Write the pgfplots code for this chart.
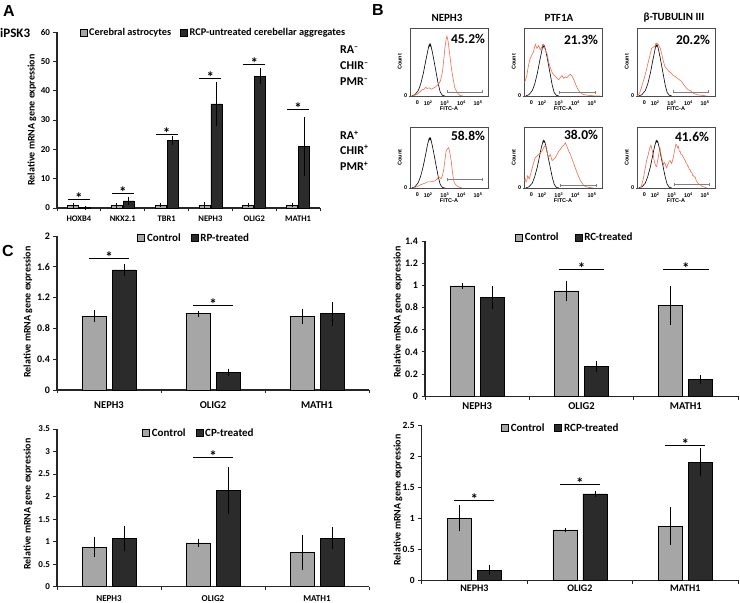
\documentclass[border=0pt]{standalone}
\usepackage{fontspec}
\setmainfont{Carlito}
\newfontfamily\arial{Liberation Sans}
\usepackage{pgfplots}
\pgfplotsset{compat=1.18}
\usetikzlibrary{arrows.meta}
\newcommand{\fs}[1]{\fontsize{#1}{#1}\selectfont}
\definecolor{lbar}{HTML}{A6A6A6}
\definecolor{dbar}{HTML}{2B2B2B}
\definecolor{hred}{HTML}{F26B4A}

\tikzset{sigstar/.style={pos=0.5, anchor=base, yshift=-4pt, font=\bfseries\fs{15}}}

\pgfplotsset{
  ybar legend/.style={legend image code/.code={\draw[##1,draw=black,line width=0.6pt] (0pt,-3.5pt) rectangle (7pt,3.5pt);}},
  barax/.style={
    scale only axis, ybar, ymin=0, clip=false,
    axis lines=left, axis line style={-, line width=1.1pt, black!85},
    tick align=outside, ytick pos=left, major tick length=3.5pt,
    tick style={black!85, line width=0.9pt},
    xticklabels={,,,,,,,,},
    extra x tick style={major tick length=0pt},
    /pgf/number format/assume math mode=true,
    legend style={draw=none, fill=none, legend columns=2, inner sep=0pt,
      /tikz/every even column/.append style={column sep=8pt}},
    legend cell align=left,
    error bars/y dir=both, error bars/y explicit,
    error bars/error mark options={black, mark size=2pt, line width=0.7pt},
    error bars/error bar style={black, line width=0.7pt},
    every axis plot/.append style={draw=black, line width=0.7pt},
  },
  hist/.style={
    scale only axis, width=78pt, xmin=0.9, xmax=5.6, ymin=0, ymax=1,
    axis line style={black!70, line width=0.5pt},
    xtick={1.35,2,3,4,5},
    xticklabels={0,10\textsuperscript{2},10\textsuperscript{3},10\textsuperscript{4},10\textsuperscript{5}},
    minor xtick={2.3,2.48,2.6,2.7,2.78,2.85,2.9,2.95,3.3,3.48,3.6,3.7,3.78,3.85,3.9,3.95,4.3,4.48,4.6,4.7,4.78,4.85,4.9,4.95},
    ytick={0}, yticklabels={0},
    xtick pos=bottom, ytick pos=left, tick align=outside,
    major tick length=1.5pt, minor tick length=1pt,
    tick style={black!70, line width=0.4pt},
    tick label style={font=\arial\bfseries\fs{5.5}, inner sep=1pt},
    xticklabel style={yshift=-2pt},
    xlabel={FITC-A}, ylabel={Count},
    label style={font=\arial\bfseries\fs{5.5}},
    xlabel style={yshift=3pt}, ylabel style={yshift=-2pt},
    every axis plot/.append style={line width=0.6pt, no marks},
  },
}

\begin{document}
\begin{tikzpicture}

% ---------- panel letters and side text
\node[font=\arial\bfseries\fs{16}] at (9pt,592pt) {A};
\node[font=\arial\bfseries\fs{16}] at (378pt,593pt) {B};
\node[font=\arial\bfseries\fs{16}] at (8pt,352pt) {C};
\node[font=\bfseries\fs{13}, anchor=west, inner sep=0pt] at (0pt,570pt) {iPSK3};

% ---------- A
\begin{axis}[barax, at={(57pt,395pt)}, anchor=south west, width=263pt, height=176pt,
  xmin=-0.5, xmax=5.5, ymax=60, ytick={0,10,20,30,40,50,60}, bar width=11pt,
  xtick={-0.5,0.5,1.5,2.5,3.5,4.5,5.5},
  extra x ticks={0,1,2,3,4,5}, extra x tick labels={HOXB4,NKX2.1,TBR1,NEPH3,OLIG2,MATH1},
  yticklabel style={font=\bfseries\fs{9}},
  xticklabel style={font=\bfseries\fs{8.5}, yshift=-4pt},
  legend style={at={(0.085,0.994)}, anchor=west, font=\bfseries\fs{10.3},
    /tikz/every even column/.append style={column sep=7pt}}]
\addplot[fill=lbar, bar shift=-6pt] coordinates {(0,0.8)+-(0,0.3) (1,0.9)+-(0,0.2) (2,1)+-(0,0.1) (3,1)+-(0,0.3) (4,1)+-(0,0.1) (5,1)+-(0,0.1)};
\addplot[fill=dbar, bar shift=6pt] coordinates {(0,0.1)+-(0,0.05) (1,2.4)+-(0,0.7) (2,23)+-(0,0.8) (3,35.5)+-(0,6.7) (4,45)+-(0,2) (5,21)+-(0,9.3)};
\legend{Cerebral astrocytes,RCP-untreated cerebellar aggregates}
\draw[line width=1.1pt] (axis cs:-0.25,3) -- (axis cs:0.25,3) node[sigstar] {*};
\draw[line width=1.1pt] (axis cs:0.75,4.8) -- (axis cs:1.25,4.8) node[sigstar] {*};
\draw[line width=1.1pt] (axis cs:1.75,25) -- (axis cs:2.25,25) node[sigstar] {*};
\draw[line width=1.1pt] (axis cs:2.75,44) -- (axis cs:3.25,44) node[sigstar] {*};
\draw[line width=1.1pt] (axis cs:3.75,49) -- (axis cs:4.25,49) node[sigstar] {*};
\draw[line width=1.1pt] (axis cs:4.75,33.6) -- (axis cs:5.25,33.6) node[sigstar] {*};
\end{axis}
\node[rotate=90, font=\bfseries\fs{10}] at (32pt,483pt) {Relative mRNA gene expression};

% ---------- B : headers and row labels
\node[font=\bfseries\fs{11}] at (447pt,585pt) {NEPH3};
\node[font=\bfseries\fs{11}] at (559pt,585pt) {PTF1A};
\node[font=\bfseries\fs{11}] at (674pt,585pt) {β-TUBULIN III};
\begin{scope}[every node/.style={anchor=west, inner sep=0pt, font=\bfseries\fs{12}}]
\node at (340pt,553pt) {RA\textsuperscript{--}};
\node at (340pt,537pt) {CHIR\textsuperscript{--}};
\node at (340pt,521pt) {PMR\textsuperscript{--}};
\node at (340pt,468pt) {RA\textsuperscript{+}};
\node at (340pt,453pt) {CHIR\textsuperscript{+}};
\node at (340pt,437pt) {PMR\textsuperscript{+}};
\end{scope}

% row 1
\begin{axis}[hist, at={(410pt,507pt)}, anchor=south west, height=68pt]
\addplot[black] coordinates {(1.0,0) (1.2,0.02) (1.4,0.08) (1.55,0.18) (1.7,0.33) (1.85,0.52) (1.95,0.64) (2.02,0.72) (2.06,0.76) (2.1,0.73) (2.14,0.76) (2.2,0.7) (2.3,0.58) (2.45,0.38) (2.6,0.18) (2.72,0.06) (2.85,0.01) (3.0,0)};
\addplot[hred] coordinates {(1.0,0) (1.3,0.02) (1.5,0.06) (1.62,0.09) (1.75,0.1) (1.85,0.13) (1.92,0.11) (2.05,0.12) (2.2,0.1) (2.42,0.13) (2.6,0.17) (2.73,0.22) (2.85,0.35) (2.93,0.52) (3.0,0.7) (3.08,0.84) (3.13,0.88) (3.2,0.8) (3.3,0.6) (3.4,0.4) (3.5,0.25) (3.6,0.12) (3.74,0.05) (3.9,0.01) (4.1,0)};
\addplot[gray, {Bar[width=3pt]}-{Bar[width=3pt]}] coordinates {(3.13,0.06) (5.25,0.06)};
\end{axis}
\begin{axis}[hist, at={(524pt,507pt)}, anchor=south west, height=68pt]
\addplot[black] coordinates {(1.0,0) (1.2,0.02) (1.4,0.08) (1.55,0.18) (1.7,0.33) (1.85,0.52) (1.95,0.64) (2.0,0.7) (2.04,0.75) (2.08,0.72) (2.12,0.74) (2.2,0.68) (2.3,0.56) (2.45,0.36) (2.6,0.16) (2.72,0.05) (2.85,0.01) (3.0,0)};
\addplot[hred] coordinates {(0.92,0.2) (0.97,0.22) (1.07,0.3) (1.17,0.45) (1.27,0.55) (1.37,0.6) (1.47,0.65) (1.58,0.76) (1.68,0.7) (1.78,0.74) (1.88,0.68) (1.98,0.72) (2.08,0.76) (2.18,0.68) (2.29,0.62) (2.38,0.5) (2.48,0.42) (2.59,0.35) (2.69,0.31) (2.79,0.29) (2.89,0.26) (2.99,0.24) (3.09,0.27) (3.19,0.3) (3.29,0.26) (3.39,0.28) (3.49,0.27) (3.59,0.3) (3.7,0.32) (3.8,0.29) (3.9,0.24) (4.0,0.18) (4.1,0.12) (4.2,0.08) (4.3,0.05) (4.4,0.03) (4.6,0.015) (4.8,0.01) (5.2,0) (5.5,0)};
\addplot[gray, {Bar[width=3pt]}-{Bar[width=3pt]}] coordinates {(2.99,0.05) (5.21,0.05)};
\end{axis}
\begin{axis}[hist, at={(637pt,507pt)}, anchor=south west, height=68pt]
\addplot[black] coordinates {(1.0,0) (1.2,0.02) (1.4,0.08) (1.55,0.18) (1.7,0.33) (1.85,0.52) (1.95,0.64) (2.0,0.7) (2.04,0.76) (2.08,0.73) (2.12,0.75) (2.2,0.68) (2.3,0.56) (2.45,0.36) (2.6,0.16) (2.72,0.05) (2.85,0.01) (3.0,0)};
\addplot[hred] coordinates {(0.92,0) (1.07,0.05) (1.2,0.15) (1.38,0.3) (1.5,0.42) (1.58,0.5) (1.7,0.62) (1.78,0.7) (1.9,0.72) (1.98,0.73) (2.1,0.78) (2.18,0.76) (2.3,0.7) (2.39,0.62) (2.5,0.5) (2.59,0.43) (2.69,0.4) (2.79,0.37) (2.89,0.35) (2.99,0.33) (3.09,0.3) (3.19,0.29) (3.29,0.27) (3.39,0.25) (3.5,0.23) (3.6,0.21) (3.7,0.17) (3.8,0.14) (3.9,0.11) (4.0,0.09) (4.1,0.08) (4.21,0.06) (4.3,0.04) (4.41,0.03) (4.6,0.015) (4.81,0.01) (5.1,0)};
\addplot[gray, {Bar[width=3pt]}-{Bar[width=3pt]}] coordinates {(3.09,0.06) (5.21,0.06)};
\end{axis}

% row 2
\begin{axis}[hist, at={(410pt,415pt)}, anchor=south west, height=61pt]
\addplot[black] coordinates {(1.0,0) (1.2,0.02) (1.4,0.09) (1.55,0.2) (1.7,0.36) (1.85,0.56) (1.95,0.7) (2.02,0.78) (2.06,0.82) (2.1,0.79) (2.14,0.82) (2.2,0.75) (2.3,0.62) (2.45,0.4) (2.6,0.19) (2.72,0.06) (2.85,0.01) (3.0,0)};
\addplot[hred] coordinates {(1.1,0) (1.3,0.02) (1.52,0.05) (1.7,0.07) (1.82,0.08) (1.95,0.1) (2.12,0.1) (2.3,0.11) (2.42,0.12) (2.55,0.15) (2.63,0.19) (2.7,0.17) (2.77,0.15) (2.85,0.2) (2.93,0.3) (3.0,0.45) (3.07,0.6) (3.15,0.64) (3.23,0.66) (3.3,0.58) (3.38,0.45) (3.45,0.28) (3.53,0.12) (3.63,0.06) (3.74,0.03) (3.9,0.01) (4.04,0)};
\addplot[gray, {Bar[width=3pt]}-{Bar[width=3pt]}] coordinates {(3.1,0.14) (5.25,0.14)};
\end{axis}
\begin{axis}[hist, at={(524pt,415pt)}, anchor=south west, height=61pt]
\addplot[black] coordinates {(1.0,0) (1.2,0.02) (1.4,0.08) (1.55,0.19) (1.7,0.34) (1.85,0.54) (1.95,0.67) (2.02,0.74) (2.06,0.78) (2.1,0.75) (2.14,0.77) (2.2,0.71) (2.3,0.58) (2.45,0.38) (2.6,0.18) (2.72,0.06) (2.85,0.01) (3.0,0)};
\addplot[hred] coordinates {(0.92,0.12) (0.97,0.15) (1.02,0.1) (1.07,0.12) (1.12,0.2) (1.17,0.18) (1.22,0.15) (1.27,0.2) (1.37,0.3) (1.47,0.4) (1.58,0.5) (1.68,0.52) (1.78,0.55) (1.88,0.58) (1.98,0.6) (2.08,0.66) (2.18,0.7) (2.28,0.6) (2.38,0.5) (2.48,0.55) (2.59,0.45) (2.69,0.47) (2.79,0.5) (2.89,0.55) (2.99,0.6) (3.09,0.63) (3.19,0.68) (3.29,0.7) (3.39,0.74) (3.49,0.68) (3.6,0.6) (3.7,0.55) (3.8,0.47) (3.9,0.4) (4.0,0.32) (4.1,0.25) (4.2,0.18) (4.3,0.12) (4.4,0.08) (4.5,0.04) (4.65,0.02) (4.8,0.01) (5.1,0)};
\addplot[gray, {Bar[width=3pt]}-{Bar[width=3pt]}] coordinates {(3.09,0.04) (5.25,0.04)};
\end{axis}
\begin{axis}[hist, at={(637pt,415pt)}, anchor=south west, height=61pt]
\addplot[black] coordinates {(1.0,0) (1.2,0.02) (1.4,0.08) (1.55,0.19) (1.7,0.34) (1.85,0.54) (1.95,0.67) (2.02,0.74) (2.06,0.78) (2.1,0.75) (2.14,0.77) (2.2,0.71) (2.3,0.58) (2.45,0.38) (2.6,0.18) (2.72,0.06) (2.85,0.01) (3.0,0)};
\addplot[hred] coordinates {(1.1,0) (1.18,0.05) (1.28,0.15) (1.38,0.3) (1.48,0.45) (1.58,0.55) (1.66,0.65) (1.74,0.7) (1.81,0.62) (1.88,0.55) (1.93,0.45) (1.98,0.4) (2.04,0.36) (2.09,0.35) (2.14,0.45) (2.18,0.5) (2.24,0.6) (2.29,0.65) (2.34,0.56) (2.39,0.5) (2.44,0.42) (2.49,0.38) (2.54,0.42) (2.59,0.4) (2.64,0.36) (2.69,0.33) (2.74,0.38) (2.79,0.4) (2.84,0.44) (2.89,0.45) (2.94,0.42) (2.99,0.4) (3.04,0.45) (3.09,0.5) (3.14,0.58) (3.19,0.65) (3.25,0.72) (3.3,0.7) (3.35,0.66) (3.39,0.68) (3.45,0.6) (3.5,0.6) (3.55,0.55) (3.6,0.55) (3.7,0.5) (3.8,0.45) (3.85,0.42) (3.9,0.4) (3.95,0.36) (4.0,0.35) (4.05,0.3) (4.1,0.3) (4.15,0.26) (4.21,0.25) (4.26,0.2) (4.3,0.2) (4.36,0.18) (4.41,0.18) (4.46,0.13) (4.51,0.1) (4.6,0.07) (4.71,0.05) (4.81,0.03) (4.91,0.02) (5.1,0)};
\addplot[gray, {Bar[width=3pt]}-{Bar[width=3pt]}] coordinates {(3.15,0.06) (5.3,0.06)};
\end{axis}

\begin{scope}[every node/.style={font=\bfseries\fs{13.5}}]
\node at (468pt,564pt) {45.2\%};
\node at (581pt,563pt) {21.3\%};
\node at (693pt,563pt) {20.2\%};
\node at (468pt,467pt) {58.8\%};
\node at (581pt,468pt) {38.0\%};
\node at (692pt,466pt) {41.6\%};
\end{scope}

% ---------- C : RP-treated
\begin{axis}[barax, at={(57pt,213pt)}, anchor=south west, width=312pt, height=154pt,
  xmin=-0.5, xmax=2.5, ymax=2, ytick={0,0.4,0.8,1.2,1.6,2}, bar width=24pt,
  xtick={-0.5,0.5,1.5,2.5}, extra x ticks={0,1,2}, extra x tick labels={NEPH3,OLIG2,MATH1},
  yticklabel style={font=\bfseries\fs{10}},
  xticklabel style={font=\bfseries\fs{10.5}, yshift=-8pt},
  legend style={at={(0.44,0.987)}, anchor=center, font=\bfseries\fs{11}}]
\addplot[fill=lbar, bar shift=-15pt] coordinates {(0,0.96)+-(0,0.05) (1,0.99)+-(0,0.01) (2,0.95)+-(0,0.07)};
\addplot[fill=dbar, bar shift=15pt] coordinates {(0,1.56)+-(0,0.05) (1,0.23)+-(0,0.02) (2,0.99)+-(0,0.13)};
\legend{Control,RP-treated}
\draw[line width=1.1pt] (axis cs:-0.19,1.71) -- (axis cs:0.19,1.71) node[sigstar] {*};
\draw[line width=1.1pt] (axis cs:0.81,1.095) -- (axis cs:1.19,1.095) node[sigstar] {*};
\end{axis}
\node[rotate=90, font=\bfseries\fs{10}] at (28pt,291pt) {Relative mRNA gene expression};

% ---------- C : RC-treated
\begin{axis}[barax, at={(425pt,206.7pt)}, anchor=south west, width=313pt, height=155.3pt,
  xmin=-0.5, xmax=2.5, ymax=1.4, ytick={0,0.2,0.4,0.6,0.8,1,1.2,1.4}, bar width=24pt,
  xtick={-0.5,0.5,1.5,2.5}, extra x ticks={0,1,2}, extra x tick labels={NEPH3,OLIG2,MATH1},
  yticklabel style={font=\bfseries\fs{10}},
  xticklabel style={font=\bfseries\fs{10.5}, yshift=-3pt},
  legend style={at={(0.479,1.02)}, anchor=center, font=\bfseries\fs{11},
    /tikz/every even column/.append style={column sep=14pt}}]
\addplot[fill=lbar, bar shift=-15pt] coordinates {(0,0.995)+-(0,0.008) (1,0.95)+-(0,0.075) (2,0.82)+-(0,0.155)};
\addplot[fill=dbar, bar shift=15pt] coordinates {(0,0.89)+-(0,0.085) (1,0.27)+-(0,0.03) (2,0.15)+-(0,0.02)};
\legend{Control,RC-treated}
\draw[line width=1.1pt] (axis cs:0.78,1.147) -- (axis cs:1.22,1.147) node[sigstar] {*};
\draw[line width=1.1pt] (axis cs:1.78,1.147) -- (axis cs:2.22,1.147) node[sigstar] {*};
\end{axis}
\node[rotate=90, font=\bfseries\fs{10}] at (398pt,291pt) {Relative mRNA gene expression};

% ---------- C : CP-treated
\begin{axis}[barax, at={(57pt,16.3pt)}, anchor=south west, width=312pt, height=157.7pt,
  xmin=-0.5, xmax=2.5, ymax=3.5, ytick={0,0.5,1,1.5,2,2.5,3,3.5}, bar width=24pt,
  xtick={-0.5,0.5,1.5,2.5}, extra x ticks={0,1,2}, extra x tick labels={NEPH3,OLIG2,MATH1},
  yticklabel style={font=\bfseries\fs{9}},
  xticklabel style={font=\bfseries\fs{9}, yshift=-5pt},
  legend style={at={(0.455,0.973)}, anchor=center, font=\bfseries\fs{11}}]
\addplot[fill=lbar, bar shift=-15pt] coordinates {(0,0.88)+-(0,0.17) (1,0.97)+-(0,0.04) (2,0.76)+-(0,0.34)};
\addplot[fill=dbar, bar shift=15pt] coordinates {(0,1.07)+-(0,0.24) (1,2.13)+-(0,0.48) (2,1.08)+-(0,0.2)};
\legend{Control,CP-treated}
\draw[line width=1.1pt] (axis cs:0.81,2.875) -- (axis cs:1.19,2.875) node[sigstar] {*};
\end{axis}
\node[rotate=90, font=\bfseries\fs{10}] at (28pt,99pt) {Relative mRNA gene expression};

% ---------- C : RCP-treated
\begin{axis}[barax, at={(421.7pt,22.7pt)}, anchor=south west, width=316.3pt, height=155.3pt,
  xmin=-0.5, xmax=2.5, ymax=2.5, ytick={0,0.5,1,1.5,2,2.5}, bar width=24pt,
  xtick={-0.5,0.5,1.5,2.5}, extra x ticks={0,1,2}, extra x tick labels={NEPH3,OLIG2,MATH1},
  yticklabel style={font=\bfseries\fs{9.5}},
  xticklabel style={font=\bfseries\fs{10}, yshift=-1pt},
  legend style={at={(0.44,0.98)}, anchor=center, font=\bfseries\fs{11}}]
\addplot[fill=lbar, bar shift=-15pt] coordinates {(0,1.0)+-(0,0.18) (1,0.81)+-(0,0.005) (2,0.87)+-(0,0.27)};
\addplot[fill=dbar, bar shift=15pt] coordinates {(0,0.16)+-(0,0.05) (1,1.39)+-(0,0.01) (2,1.9)+-(0,0.19)};
\legend{Control,RCP-treated}
\draw[line width=1.1pt] (axis cs:-0.19,1.28) -- (axis cs:0.19,1.28) node[sigstar] {*};
\draw[line width=1.1pt] (axis cs:0.81,1.537) -- (axis cs:1.19,1.537) node[sigstar] {*};
\draw[line width=1.1pt] (axis cs:1.81,2.17) -- (axis cs:2.19,2.17) node[sigstar] {*};
\end{axis}
\node[rotate=90, font=\bfseries\fs{10}] at (398pt,103pt) {Relative mRNA gene expression};

\pgfresetboundingbox
\path (0pt,0pt) rectangle (740pt,603pt);
\end{tikzpicture}
\end{document}
